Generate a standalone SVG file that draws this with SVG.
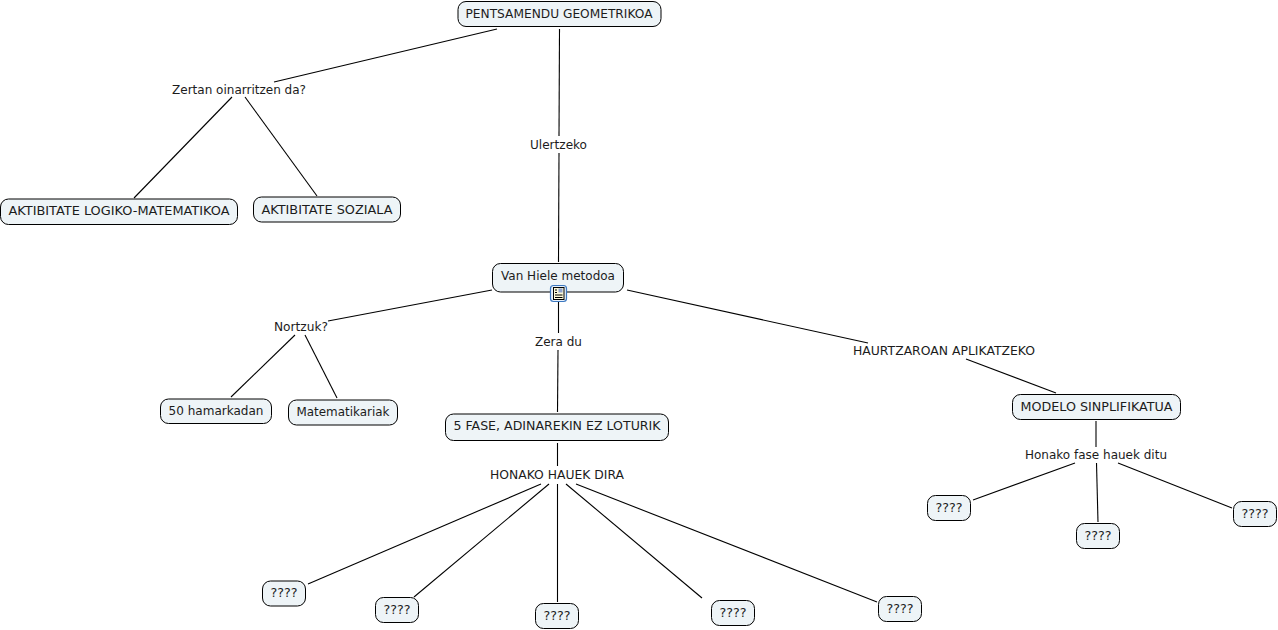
<svg xmlns="http://www.w3.org/2000/svg" width="1278" height="630" viewBox="0 0 1278 630">
<style>
text{font-family:"DejaVu Sans",Verdana,sans-serif;font-size:12px;fill:#1c1c1c;text-anchor:middle}
.n rect.b{fill:#eef4f7;stroke:#000;stroke-width:1;rx:8px;ry:8px}
#connectors line{stroke:#000;stroke-width:1.1}
</style>
<rect width="1278" height="630" fill="#fff"/>
<g id="connectors">
<line x1="497" y1="29" x2="274" y2="82"/>
<line x1="232" y1="97" x2="134" y2="198"/>
<line x1="245" y1="97" x2="317" y2="196"/>
<line x1="559.500" y1="29" x2="559" y2="136"/>
<line x1="559" y1="153" x2="558.500" y2="262"/>
<line x1="492" y1="290" x2="328" y2="321"/>
<line x1="295" y1="335" x2="231" y2="397"/>
<line x1="305" y1="335" x2="337" y2="398"/>
<line x1="558.500" y1="302" x2="558.500" y2="333"/>
<line x1="558" y1="350" x2="557.500" y2="412"/>
<line x1="627" y1="290" x2="868" y2="343"/>
<line x1="966" y1="359" x2="1056" y2="393"/>
<line x1="557.500" y1="443" x2="557.500" y2="466"/>
<line x1="541" y1="484" x2="308" y2="584"/>
<line x1="549" y1="484" x2="414" y2="597"/>
<line x1="557.500" y1="484" x2="557.500" y2="602"/>
<line x1="566" y1="484" x2="702" y2="598"/>
<line x1="576" y1="484" x2="877" y2="602"/>
<line x1="1096" y1="421" x2="1096" y2="447"/>
<line x1="1075" y1="463" x2="973" y2="500"/>
<line x1="1096.500" y1="463" x2="1098" y2="522"/>
<line x1="1118" y1="463" x2="1232" y2="508"/>
</g>
<g id="n1" class="n"><rect class="b" x="458" y="1.500" width="203" height="25"/><text x="559" y="18" textLength="187" lengthAdjust="spacingAndGlyphs">PENTSAMENDU GEOMETRIKOA</text></g>
<g id="l1"><text x="239" y="94" textLength="134" lengthAdjust="spacingAndGlyphs">Zertan oinarritzen da?</text></g>
<g id="l2"><text x="558.500" y="149" textLength="57" lengthAdjust="spacingAndGlyphs">Ulertzeko</text></g>
<g id="n2" class="n"><rect class="b" x="0.500" y="199" width="237" height="25.500"/><text x="119" y="215" textLength="221" lengthAdjust="spacingAndGlyphs">AKTIBITATE LOGIKO-MATEMATIKOA</text></g>
<g id="n3" class="n"><rect class="b" x="253.500" y="197" width="147" height="25"/><text x="327" y="214" textLength="131" lengthAdjust="spacingAndGlyphs">AKTIBITATE SOZIALA</text></g>
<g id="n4" class="n"><rect class="b" x="492.500" y="263.500" width="131" height="28.500"/><text x="558" y="280" textLength="114" lengthAdjust="spacingAndGlyphs">Van Hiele metodoa</text>
<g id="icon"><rect x="550.500" y="285.500" width="16" height="16" rx="3" fill="#e8f1fb" stroke="#3c78c0" stroke-width="1.200"/><rect x="553.500" y="287.500" width="10.500" height="12" fill="#fbf8d8" stroke="#000" stroke-width="1"/><path d="M555 295h7.500M555 297.500h7.500M555 290h2M555 292.500h2" stroke="#000" stroke-width="1" fill="none"/><rect x="558.500" y="288.500" width="4" height="4" fill="#8fa3d0"/></g></g>
<g id="l3"><text x="301" y="331" textLength="54" lengthAdjust="spacingAndGlyphs">Nortzuk?</text></g>
<g id="l4"><text x="558.500" y="346" textLength="47" lengthAdjust="spacingAndGlyphs">Zera du</text></g>
<g id="l5"><text x="944" y="355" textLength="182" lengthAdjust="spacingAndGlyphs">HAURTZAROAN APLIKATZEKO</text></g>
<g id="n5" class="n"><rect class="b" x="160.500" y="399" width="111" height="24.500"/><text x="216" y="415" textLength="95" lengthAdjust="spacingAndGlyphs">50 hamarkadan</text></g>
<g id="n6" class="n"><rect class="b" x="288.500" y="400" width="109" height="25"/><text x="343" y="416" textLength="93" lengthAdjust="spacingAndGlyphs">Matematikariak</text></g>
<g id="n7" class="n"><rect class="b" x="445.500" y="414" width="223" height="26.500"/><text x="557" y="430" textLength="207" lengthAdjust="spacingAndGlyphs">5 FASE, ADINAREKIN EZ LOTURIK</text></g>
<g id="n8" class="n"><rect class="b" x="1012.500" y="394.500" width="168" height="25"/><text x="1096.500" y="411" textLength="152" lengthAdjust="spacingAndGlyphs">MODELO SINPLIFIKATUA</text></g>
<g id="l6"><text x="557" y="479" textLength="134" lengthAdjust="spacingAndGlyphs">HONAKO HAUEK DIRA</text></g>
<g id="l7"><text x="1096" y="459" textLength="142" lengthAdjust="spacingAndGlyphs">Honako fase hauek ditu</text></g>
<g id="q1" class="n"><rect class="b" x="262.500" y="581" width="43" height="25"/><text x="284" y="597" textLength="27" lengthAdjust="spacingAndGlyphs">????</text></g>
<g id="q2" class="n"><rect class="b" x="375.500" y="597.500" width="43" height="25"/><text x="397" y="614" textLength="27" lengthAdjust="spacingAndGlyphs">????</text></g>
<g id="q3" class="n"><rect class="b" x="535.500" y="603.500" width="43" height="25"/><text x="557" y="620" textLength="27" lengthAdjust="spacingAndGlyphs">????</text></g>
<g id="q4" class="n"><rect class="b" x="711.500" y="600.500" width="43" height="25"/><text x="733" y="617" textLength="27" lengthAdjust="spacingAndGlyphs">????</text></g>
<g id="q5" class="n"><rect class="b" x="878.500" y="596.500" width="43" height="25"/><text x="900" y="613" textLength="27" lengthAdjust="spacingAndGlyphs">????</text></g>
<g id="q6" class="n"><rect class="b" x="927.500" y="495.500" width="43" height="25"/><text x="949" y="512" textLength="27" lengthAdjust="spacingAndGlyphs">????</text></g>
<g id="q7" class="n"><rect class="b" x="1076.500" y="523.500" width="43" height="25"/><text x="1098" y="540" textLength="27" lengthAdjust="spacingAndGlyphs">????</text></g>
<g id="q8" class="n"><rect class="b" x="1233.500" y="501.500" width="43" height="25"/><text x="1255" y="518" textLength="27" lengthAdjust="spacingAndGlyphs">????</text></g>
</svg>
